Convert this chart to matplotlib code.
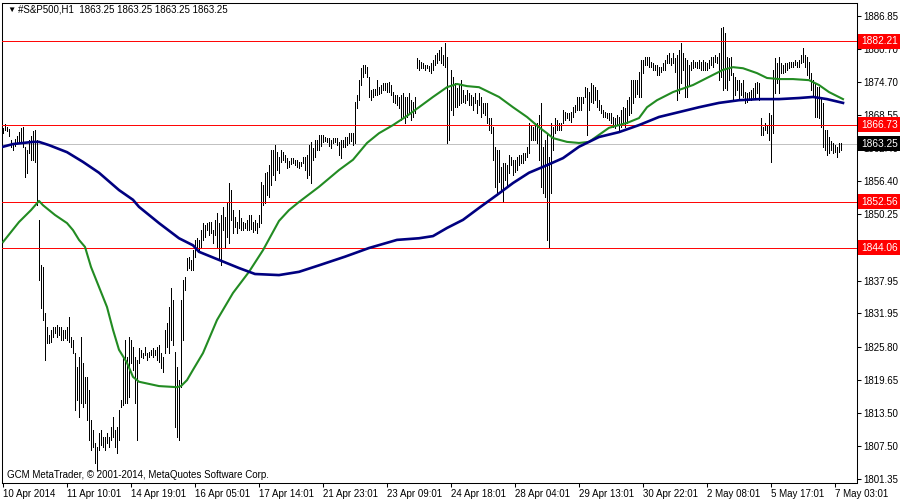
import matplotlib
matplotlib.use('Agg')
import matplotlib.pyplot as plt
import matplotlib.transforms as mtransforms

plt.rcParams['font.family'] = ['Liberation Sans', 'DejaVu Sans']
plt.rcParams['font.size'] = 7

# H1 bars, high / low per bar (oldest first)
high = [
    # 10 Apr
    1866.2, 1866.9, 1866.4, 1866.0, 1863.9, 1863.4, 1864.1, 1864.7, 1865.4, 1866.2,
    1866.3, 1862.7, 1862.1, 1863.9, 1864.7, 1865.6, 1865.8, 1863.9, 1849.2, 1840.9,
    1840.5, 1832.0,
    # 11 Apr
    1829.4, 1827.9, 1828.9, 1829.4, 1829.4, 1829.8, 1829.4, 1829.4, 1828.9, 1828.9,
    1829.4, 1831.3, 1827.6, 1827.0, 1824.6, 1822.0, 1823.9, 1827.6, 1822.8, 1820.2,
    1820.2, 1817.8, 1812.2, 1810.4, 1808.0, 1807.2, 1809.8, 1810.4, 1809.1, 1809.1,
    1809.8, 1809.1, 1810.9, 1812.8, 1810.4, 1810.9, 1814.1, 1815.9, 1823.9, 1827.0,
    1823.9, 1827.6, 1827.0, 1825.7, 1823.9, 1823.3, 1825.5,
    # 14 Apr - 17 Apr
    1825.2, 1824.6, 1825.7, 1824.6, 1824.8, 1825.2, 1825.5, 1825.2, 1825.7, 1826.1,
    1824.6, 1823.9, 1828.9, 1830.1, 1833.1, 1836.6, 1834.4, 1824.8, 1822.0, 1819.6,
    1834.4, 1838.1, 1838.6, 1842.2, 1842.3, 1841.8, 1843.6, 1845.5, 1845.8, 1845.5,
    1847.3, 1848.6, 1848.2, 1848.6, 1848.8, 1848.8, 1847.3, 1849.2, 1850.5, 1848.6,
    1850.1, 1851.6, 1849.7, 1852.3, 1856.0, 1854.7, 1851.0, 1849.7, 1848.8, 1851.0,
    1849.5, 1848.8, 1848.6, 1849.2, 1850.1, 1850.1, 1848.8, 1849.2, 1848.6, 1850.1,
    1856.2, 1855.6, 1857.9, 1858.0, 1859.3, 1862.1, 1862.1, 1863.0, 1861.7, 1860.8,
    # 17 Apr - 24 Apr
    1862.1, 1861.7, 1861.2, 1860.6, 1860.1, 1860.6, 1860.6, 1860.3, 1860.3, 1859.9,
    1859.9, 1860.8, 1860.8, 1861.2, 1863.0, 1863.6, 1862.5, 1863.9, 1863.9, 1864.9,
    1864.9, 1864.9, 1864.5, 1864.3, 1864.3, 1863.9, 1864.3, 1864.3, 1864.3, 1863.6,
    1863.9, 1863.9, 1864.5, 1864.5, 1865.2, 1865.2, 1865.2, 1871.0, 1872.3, 1875.0,
    1877.2, 1877.8, 1877.8, 1877.4, 1875.6, 1873.2, 1873.4, 1873.4, 1875.0, 1873.7,
    1874.1, 1874.5, 1874.5, 1874.5, 1874.7, 1874.1, 1872.8, 1872.3, 1872.3, 1871.9,
    1872.3, 1872.6, 1871.9, 1871.9, 1872.6, 1871.3, 1871.0, 1871.9, 1879.1, 1878.7,
    # 24 Apr - 29 Apr
    1878.3, 1878.2, 1877.8, 1877.8, 1877.6, 1878.2, 1878.7, 1879.6, 1880.0, 1880.6,
    1881.1, 1879.6, 1881.9, 1879.3, 1873.2, 1876.9, 1875.6, 1874.5, 1873.5, 1874.1,
    1875.0, 1873.2, 1872.3, 1873.2, 1872.6, 1872.3, 1871.9, 1872.6, 1871.3, 1872.6,
    1871.9, 1870.8, 1870.8, 1870.8, 1868.0, 1868.0, 1866.3, 1862.7, 1862.1, 1862.1,
    1859.0, 1859.7, 1859.7, 1859.3, 1861.2, 1860.8, 1860.3, 1860.3, 1860.8, 1861.2,
    1861.2, 1861.5, 1861.5, 1862.7, 1867.1, 1866.7, 1866.3, 1867.1, 1867.1, 1868.6,
    1870.8, 1862.7, 1863.9, 1865.2, 1860.8, 1867.1, 1866.3, 1868.0, 1867.6, 1867.1,
    # 29 Apr - 7 May
    1867.1, 1869.5, 1869.1, 1868.9, 1868.9, 1869.1, 1870.0, 1870.4, 1871.9, 1871.9,
    1871.9, 1871.9, 1873.7, 1873.5, 1872.8, 1874.5, 1874.1, 1873.7, 1873.2, 1871.3,
    1870.4, 1869.5, 1869.1, 1868.9, 1868.9, 1868.9, 1868.2, 1868.0, 1868.6, 1868.2,
    1869.5, 1870.0, 1869.9, 1871.3, 1871.9, 1875.0, 1875.0, 1875.0, 1875.0, 1876.5,
    1878.7, 1878.7, 1879.3, 1879.3, 1879.3, 1878.4, 1878.2, 1877.8, 1877.8, 1877.4,
    1877.4, 1878.2, 1878.7, 1879.6, 1880.0, 1879.1, 1880.0, 1879.1, 1879.6, 1880.6,
    1881.9, 1880.0, 1879.1, 1878.7, 1877.8, 1878.4, 1878.7, 1878.4, 1878.4, 1878.7,
    1878.4, 1878.7, 1878.4, 1878.2, 1878.7, 1879.3, 1879.3, 1879.6, 1879.3, 1880.0,
    1884.6, 1884.8, 1883.7, 1879.3, 1879.1, 1879.3, 1876.3, 1875.6, 1875.0, 1875.0,
    1874.5, 1875.0, 1872.8, 1872.6, 1872.8, 1873.2, 1873.5, 1874.5, 1874.7, 1874.5,
    1868.0, 1866.3, 1867.1, 1866.7, 1868.9, 1868.6, 1876.9, 1879.1, 1878.2, 1879.3,
    1878.2, 1877.8, 1878.2, 1878.2, 1878.4, 1878.4, 1878.4, 1878.7, 1878.4, 1878.7,
    1879.6, 1880.9, 1879.6, 1879.3, 1878.4, 1876.3, 1875.0, 1874.5, 1873.7, 1873.7,
    1871.9, 1870.8, 1865.8, 1865.8, 1864.5, 1863.8, 1863.4, 1863.0, 1862.7, 1863.4,
    1863.4, 1863.25,
]
low = [
    1865.2, 1865.8, 1865.6, 1864.7, 1862.7, 1862.1, 1862.8, 1863.4, 1863.4, 1863.6,
    1862.7, 1857.1, 1857.9, 1861.5, 1860.3, 1860.3, 1859.9, 1851.9, 1838.1, 1832.9,
    1830.7, 1823.3,
    1826.5, 1826.5, 1826.6, 1827.6, 1828.3, 1827.6, 1827.9, 1827.0, 1827.0, 1827.4,
    1827.0, 1826.6, 1825.7, 1824.6, 1814.1, 1815.9, 1812.8, 1815.4, 1814.6, 1815.4,
    1812.2, 1808.5, 1806.7, 1807.2, 1804.3, 1803.0, 1806.7, 1807.6, 1807.2, 1806.7,
    1808.0, 1807.2, 1808.5, 1809.1, 1807.2, 1806.1, 1808.5, 1814.6, 1815.0, 1815.4,
    1815.4, 1816.5, 1822.8, 1821.5, 1815.4, 1808.5, 1822.8,
    1823.9, 1823.7, 1824.2, 1823.3, 1823.9, 1824.2, 1823.9, 1824.2, 1823.3, 1822.9,
    1821.8, 1821.1, 1824.6, 1825.7, 1824.6, 1827.0, 1826.1, 1810.9, 1809.1, 1808.5,
    1818.3, 1827.0, 1836.2, 1839.9, 1840.3, 1839.9, 1839.9, 1842.3, 1843.6, 1843.6,
    1844.0, 1845.5, 1846.0, 1847.3, 1846.4, 1846.8, 1844.9, 1846.4, 1844.2, 1841.8,
    1840.9, 1847.3, 1844.2, 1846.0, 1844.9, 1849.2, 1846.8, 1847.9, 1846.8, 1847.7,
    1847.3, 1847.3, 1847.7, 1847.3, 1847.3, 1847.5, 1847.0, 1847.3, 1846.8, 1847.9,
    1848.6, 1851.9, 1852.3, 1853.8, 1853.4, 1855.6, 1857.5, 1856.6, 1858.4, 1857.9,
    1859.9, 1860.3, 1859.9, 1858.8, 1859.0, 1859.5, 1859.7, 1859.3, 1859.0, 1858.8,
    1859.1, 1859.7, 1858.4, 1856.9, 1857.5, 1856.0, 1860.3, 1860.8, 1862.1, 1862.1,
    1862.8, 1863.6, 1863.8, 1863.6, 1862.8, 1862.5, 1863.4, 1863.6, 1863.0, 1861.2,
    1860.6, 1862.7, 1862.7, 1863.0, 1863.4, 1863.8, 1863.0, 1863.4, 1869.9, 1871.3,
    1874.1, 1875.6, 1876.3, 1875.6, 1871.9, 1871.3, 1871.9, 1872.3, 1872.3, 1872.4,
    1872.6, 1873.2, 1873.2, 1872.8, 1872.8, 1872.3, 1871.0, 1870.8, 1870.4, 1869.9,
    1867.6, 1868.2, 1867.1, 1868.2, 1869.1, 1867.6, 1868.2, 1868.9, 1877.2, 1876.9,
    1877.2, 1877.2, 1876.9, 1877.2, 1876.7, 1876.3, 1876.9, 1877.8, 1878.2, 1878.7,
    1878.2, 1877.8, 1877.4, 1863.4, 1863.9, 1869.5, 1868.6, 1870.0, 1870.0, 1870.4,
    1870.8, 1871.0, 1870.8, 1871.3, 1870.4, 1870.4, 1869.5, 1870.8, 1868.9, 1870.4,
    1868.2, 1868.9, 1868.6, 1867.1, 1865.8, 1865.2, 1860.3, 1855.3, 1854.2, 1856.2,
    1854.7, 1852.5, 1856.6, 1855.3, 1857.9, 1859.3, 1857.5, 1858.0, 1858.4, 1859.3,
    1859.7, 1859.7, 1860.3, 1860.8, 1861.5, 1863.9, 1863.9, 1863.9, 1863.4, 1860.3,
    1855.3, 1854.2, 1853.4, 1845.5, 1844.0, 1854.2, 1862.1, 1865.2, 1865.8, 1865.8,
    1865.8, 1867.1, 1867.6, 1868.0, 1867.6, 1867.3, 1868.2, 1869.1, 1869.5, 1869.5,
    1869.5, 1870.8, 1871.9, 1864.9, 1869.5, 1871.0, 1870.8, 1871.3, 1870.0, 1869.5,
    1868.9, 1868.2, 1868.2, 1868.0, 1867.6, 1867.1, 1866.3, 1866.2, 1866.7, 1865.8,
    1866.3, 1867.3, 1866.3, 1867.1, 1868.6, 1868.9, 1870.8, 1871.9, 1872.4, 1871.9,
    1871.9, 1876.3, 1877.8, 1877.8, 1877.4, 1877.4, 1876.9, 1876.9, 1875.9, 1875.9,
    1876.5, 1876.9, 1876.9, 1878.2, 1878.2, 1877.8, 1878.2, 1876.5, 1871.3, 1872.6,
    1874.5, 1876.9, 1871.9, 1871.9, 1874.1, 1876.9, 1877.2, 1877.4, 1877.2, 1877.2,
    1876.9, 1876.9, 1876.9, 1876.9, 1877.2, 1877.8, 1877.4, 1878.4, 1878.2, 1875.0,
    1875.6, 1873.2, 1873.5, 1873.2, 1875.0, 1876.0, 1871.3, 1872.3, 1873.2, 1871.3,
    1872.3, 1871.9, 1870.8, 1871.0, 1871.3, 1871.3, 1871.9, 1871.9, 1872.6, 1871.3,
    1864.9, 1864.9, 1865.8, 1865.2, 1863.9, 1859.9, 1865.2, 1872.6, 1874.5, 1872.6,
    1876.3, 1876.3, 1876.5, 1876.9, 1877.2, 1877.4, 1877.4, 1877.8, 1877.4, 1877.4,
    1878.2, 1878.4, 1877.4, 1875.9, 1875.4, 1873.2, 1871.9, 1868.2, 1868.2, 1868.0,
    1866.3, 1862.7, 1862.1, 1861.2, 1861.5, 1862.1, 1861.5, 1861.7, 1860.8, 1861.7,
    1862.1, 1863.25,
]

# moving averages, sampled along the lines (bar number, price)
green_idx = [0, 8, 14, 18, 20, 26, 32, 35, 38, 41, 44, 48, 52, 55, 58, 62, 65, 68, 73, 78,
             87, 89, 92, 95, 100, 107, 115, 123, 130, 138, 143, 148, 158, 168, 175, 182, 188, 195, 202, 208,
             215, 222, 227, 232, 238, 243, 248, 255, 262, 268, 272, 275, 282, 288, 293, 298, 303, 312, 318, 322,
             327, 335, 345, 353, 360, 365, 370, 377, 382, 388, 395, 403, 408, 413, 420]
green_val = [1845.1, 1848.8, 1851.0, 1852.7, 1851.9, 1850.1, 1848.6, 1847.3, 1845.5, 1844.2,
             1840.5, 1836.8, 1833.1, 1828.9, 1825.2, 1822.8, 1820.2, 1819.3, 1818.9, 1818.5,
             1818.3, 1818.5, 1819.6, 1821.5, 1824.6, 1830.7, 1835.7, 1839.6, 1843.6, 1849.0,
             1851.0, 1852.5, 1855.3, 1858.4, 1860.3, 1863.4, 1865.2, 1866.7, 1868.4, 1870.0,
             1871.9, 1873.7, 1874.3, 1873.9, 1873.7, 1872.8, 1871.9, 1870.0, 1868.2, 1866.3,
             1865.2, 1864.3, 1863.6, 1863.4, 1863.6, 1864.9, 1866.2, 1867.1, 1868.0, 1870.0,
             1871.3, 1872.8, 1874.1, 1875.6, 1876.9, 1877.4, 1877.2, 1876.3, 1875.4, 1875.2,
             1875.2, 1875.0, 1874.1, 1872.8, 1871.5]
navy_idx = [0, 5, 10, 15, 18, 23, 32, 40, 48, 58, 65, 68, 78, 88, 95, 98, 108, 118, 126, 138,
            148, 158, 171, 183, 197, 208, 215, 222, 230, 238, 247, 255, 263, 272, 280, 288, 298, 308, 318, 328,
            338, 348, 358, 368, 378, 388, 398, 405, 412, 420]
navy_val = [1862.7, 1863.2, 1863.4, 1863.6, 1863.6, 1863.0, 1861.7, 1859.9, 1857.9, 1854.7,
            1852.9, 1851.6, 1848.6, 1845.8, 1844.5, 1843.3, 1841.8, 1840.3, 1839.2, 1839.0,
            1839.6, 1840.8, 1842.4, 1844.0, 1845.5, 1845.8, 1846.2, 1847.7, 1849.2, 1851.4,
            1853.8, 1856.0, 1857.9, 1859.3, 1860.6, 1862.7, 1864.5, 1865.4, 1866.7, 1868.2,
            1869.1, 1870.0, 1870.8, 1871.3, 1871.5, 1871.5, 1871.7, 1871.9, 1871.5, 1870.8]

levels = [1882.21, 1866.73, 1852.56, 1844.06]
last_price = 1863.25
# scale labels still visible next to the price boxes (1844.10 sits under a box)
price_ticks = [1886.85, 1880.70, 1874.70, 1868.55, 1862.40, 1856.40, 1850.25,
               1837.95, 1831.95, 1825.80, 1819.65, 1813.50, 1807.50, 1801.35]
date_labels = ['10 Apr 2014', '11 Apr 10:01', '14 Apr 19:01', '16 Apr 05:01', '17 Apr 14:01',
               '21 Apr 23:01', '23 Apr 09:01', '24 Apr 18:01', '28 Apr 04:01', '29 Apr 13:01',
               '30 Apr 22:01', '2 May 08:01', '5 May 17:01', '7 May 03:01']

fig = plt.figure(figsize=(9, 5), dpi=100)
ax = fig.add_axes([2 / 900, 17 / 500, 855 / 900, 480 / 500])

bars = list(range(len(high)))
ax.axhline(last_price, color='#C0C0C0', lw=0.7, zorder=1)
ax.vlines(bars, low, high, colors='black', linewidth=0.6, antialiased=False, zorder=2)
for lv in levels:
    ax.axhline(lv, color='red', lw=0.7, zorder=3)
ax.plot(green_idx, green_val, color='#228B22', lw=1.5, zorder=4)
ax.plot(navy_idx, navy_val, color='#000080', lw=1.9, zorder=5)

ax.set_xlim(-0.5, 427)
ax.set_ylim(1800.60, 1889.25)

for s in ax.spines.values():
    s.set_linewidth(0.75)
    s.set_color('black')

ax.yaxis.tick_right()
ax.set_yticks(price_ticks)
ax.set_yticklabels(['%.2f' % t for t in price_ticks])
ax.tick_params(axis='y', direction='out', length=3, width=0.75, pad=1.5, labelsize=7)

ax.set_xticks(list(range(0, 32 * len(date_labels), 32)))
ax.set_xticklabels(date_labels, ha='left')
ax.tick_params(axis='x', direction='out', length=3, width=0.75, pad=1.5, labelsize=7)

# price boxes on the right scale
trans = mtransforms.blended_transform_factory(ax.transAxes, ax.transData)
for lv in levels:
    ax.text(1.0045, lv, '%.2f' % lv, transform=trans, color='white', fontsize=7.3,
            va='center', ha='left', clip_on=False, zorder=10,
            bbox=dict(boxstyle='square,pad=0.25', fc='red', ec='none'))
ax.text(1.0045, last_price, '%.2f' % last_price, transform=trans, color='white', fontsize=7.3,
        va='center', ha='left', clip_on=False, zorder=10,
        bbox=dict(boxstyle='square,pad=0.25', fc='black', ec='none'))

fig.text(7 / 900, 1 - 10 / 500, '\u25bc', fontsize=6, va='center', ha='left')
fig.text(18 / 900, 1 - 10 / 500, '#S&P500,H1  1863.25 1863.25 1863.25 1863.25',
         fontsize=7, va='center', ha='left')
fig.text(7 / 900, 1 - 475 / 500, 'GCM MetaTrader, \u00a9 2001-2014, MetaQuotes Software Corp.',
         fontsize=7, va='center', ha='left')

fig.savefig('out.png', dpi=100, facecolor='white')
